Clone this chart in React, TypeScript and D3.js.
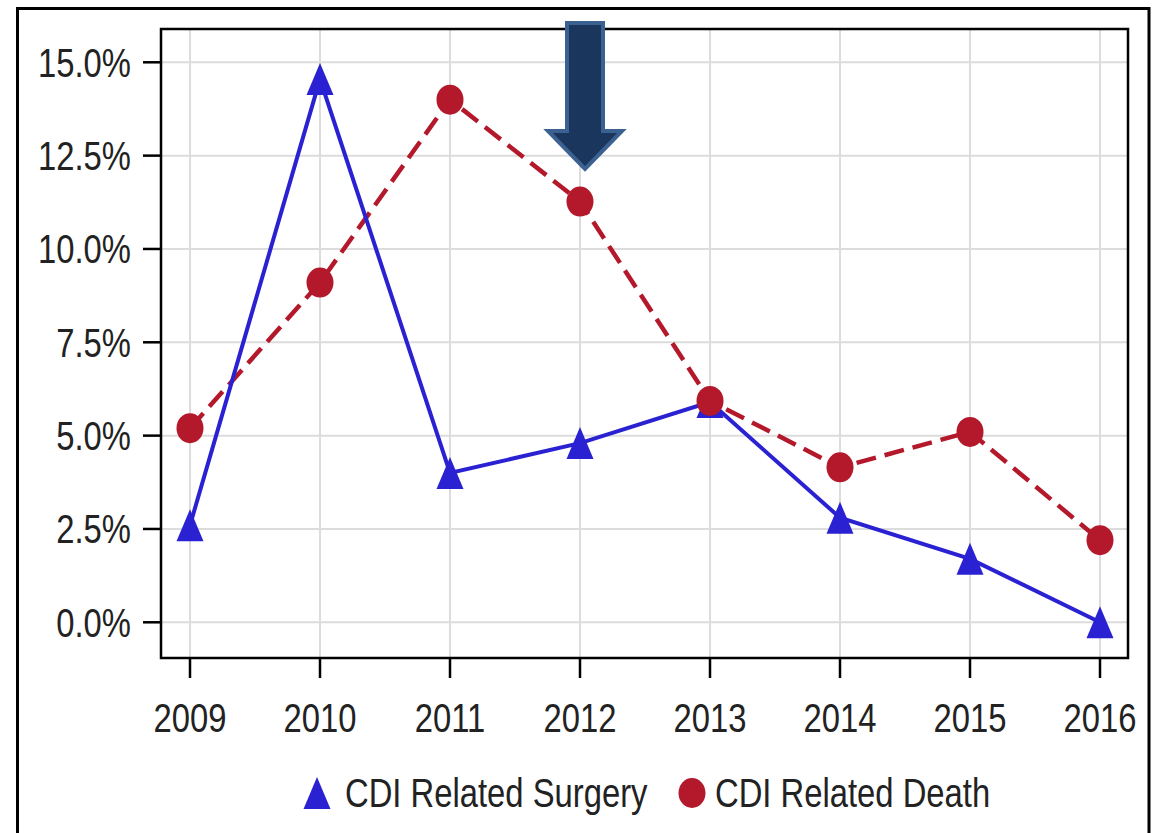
import React, { useEffect, useRef } from "react";
import * as d3 from "d3";

// Share of CDI cases by year (percent)
const years = ["2009", "2010", "2011", "2012", "2013", "2014", "2015", "2016"];
const surgery = [2.6, 14.55, 4.0, 4.8, 5.9, 2.8, 1.7, 0.0];
const death = [5.2, 9.1, 14.0, 11.27, 5.93, 4.15, 5.1, 2.2];
const yTicks = [0, 2.5, 5, 7.5, 10, 12.5, 15];
const seriesNames = ["CDI Related Surgery", "CDI Related Death"];

const W = 1161;
const H = 833;
const BLUE = "#2a22d2";
const RED = "#b3182b";
const FONT = "'Liberation Sans', Arial, sans-serif";
const NARROW = 0.82; // horizontal squeeze to get a narrow sans face

export default function App() {
  const ref = useRef<SVGSVGElement>(null);

  useEffect(() => {
    const svg = d3.select(ref.current);
    svg.selectAll("*").remove();

    const plot = { left: 161, right: 1128, top: 29, bottom: 658 };

    const x = d3.scalePoint<string>().domain(years).range([190, 1100]);
    const y = d3.scaleLinear().domain([0, 15]).range([622.3, 62.3]);

    const narrowText = (
      sel: d3.Selection<any, any, any, any>,
      tx: (d: any) => number,
      ty: (d: any) => number
    ) =>
      sel
        .attr("transform", (d: any) => `translate(${tx(d)},${ty(d)}) scale(${NARROW},1)`)
        .attr("font-family", FONT)
        .attr("font-size", 40)
        .attr("fill", "#222");

    // outer frame
    svg
      .append("rect")
      .attr("x", 17.5)
      .attr("y", 8.5)
      .attr("width", 1149 - 17.5)
      .attr("height", H + 10)
      .attr("fill", "none")
      .attr("stroke", "#000")
      .attr("stroke-width", 3);

    // grid
    const g = svg.append("g");
    g.selectAll("line.hg")
      .data(yTicks)
      .join("line")
      .attr("x1", plot.left)
      .attr("x2", plot.right)
      .attr("y1", (d) => y(d))
      .attr("y2", (d) => y(d))
      .attr("stroke", "#dcdcdc")
      .attr("stroke-width", 2);
    g.selectAll("line.vg")
      .data(years)
      .join("line")
      .attr("x1", (d) => x(d)!)
      .attr("x2", (d) => x(d)!)
      .attr("y1", plot.top)
      .attr("y2", plot.bottom)
      .attr("stroke", "#dcdcdc")
      .attr("stroke-width", 2);

    // plot frame
    g.append("rect")
      .attr("x", plot.left)
      .attr("y", plot.top)
      .attr("width", plot.right - plot.left)
      .attr("height", plot.bottom - plot.top)
      .attr("fill", "none")
      .attr("stroke", "#000")
      .attr("stroke-width", 2.5);

    // y axis ticks and labels
    const yl = svg.append("g");
    yl.selectAll("line")
      .data(yTicks)
      .join("line")
      .attr("x1", 143)
      .attr("x2", plot.left)
      .attr("y1", (d) => y(d))
      .attr("y2", (d) => y(d))
      .attr("stroke", "#000")
      .attr("stroke-width", 2.5);
    narrowText(
      yl.selectAll("text").data(yTicks).join("text"),
      () => 131,
      (d) => y(d)
    )
      .attr("dy", "0.36em")
      .attr("text-anchor", "end")
      .text((d: number) => d3.format(".1f")(d) + "%");

    // x axis ticks and labels
    const xl = svg.append("g");
    xl.selectAll("line")
      .data(years)
      .join("line")
      .attr("x1", (d) => x(d)!)
      .attr("x2", (d) => x(d)!)
      .attr("y1", plot.bottom)
      .attr("y2", 678)
      .attr("stroke", "#000")
      .attr("stroke-width", 2.5);
    narrowText(
      xl.selectAll("text").data(years).join("text"),
      (d) => x(d)!,
      () => 732
    )
      .attr("text-anchor", "middle")
      .text((d: string) => d);

    const line = d3
      .line<number>()
      .x((_, i) => x(years[i])!)
      .y((d) => y(d));

    // death series (dashed, circles)
    svg
      .append("path")
      .attr("d", line(death)!)
      .attr("fill", "none")
      .attr("stroke", RED)
      .attr("stroke-width", 4.5)
      .attr("stroke-dasharray", "20 9");

    // surgery series (solid, triangles)
    svg
      .append("path")
      .attr("d", line(surgery)!)
      .attr("fill", "none")
      .attr("stroke", BLUE)
      .attr("stroke-width", 4);

    const triPath = (cx: number, cy: number) => {
      const h = 32;
      const w = 27;
      return `M${cx},${cy - h / 2}L${cx + w / 2},${cy + h / 2}L${cx - w / 2},${cy + h / 2}Z`;
    };

    svg
      .append("g")
      .selectAll("path")
      .data(surgery)
      .join("path")
      .attr("d", (d, i) => triPath(x(years[i])!, y(d)))
      .attr("fill", BLUE);

    svg
      .append("g")
      .selectAll("ellipse")
      .data(death)
      .join("ellipse")
      .attr("cx", (_, i) => x(years[i])!)
      .attr("cy", (d) => y(d))
      .attr("rx", 13.5)
      .attr("ry", 15)
      .attr("fill", RED);

    // highlight arrow pointing at 2012
    const ax = 585;
    svg
      .append("path")
      .attr(
        "d",
        `M${ax - 18},${23} L${ax + 18},${23} L${ax + 18},${131} L${ax + 37},${131} L${ax},${169} L${ax - 37},${131} L${ax - 18},${131} Z`
      )
      .attr("fill", "#1b365d")
      .attr("stroke", "#3b6190")
      .attr("stroke-width", 4)
      .attr("stroke-linejoin", "miter");

    // legend
    const lg = svg.append("g");
    lg.append("path").attr("d", triPath(317, 793)).attr("fill", BLUE);
    narrowText(lg.append("text"), () => 345, () => 807).text(seriesNames[0]);
    lg.append("ellipse")
      .attr("cx", 692)
      .attr("cy", 793)
      .attr("rx", 13.5)
      .attr("ry", 15)
      .attr("fill", RED);
    narrowText(lg.append("text"), () => 715, () => 807).text(seriesNames[1]);
  }, []);

  return (
    <svg
      ref={ref}
      width={W}
      height={H}
      style={{ position: "absolute", left: 0, top: 0, background: "#fff" }}
    />
  );
}
